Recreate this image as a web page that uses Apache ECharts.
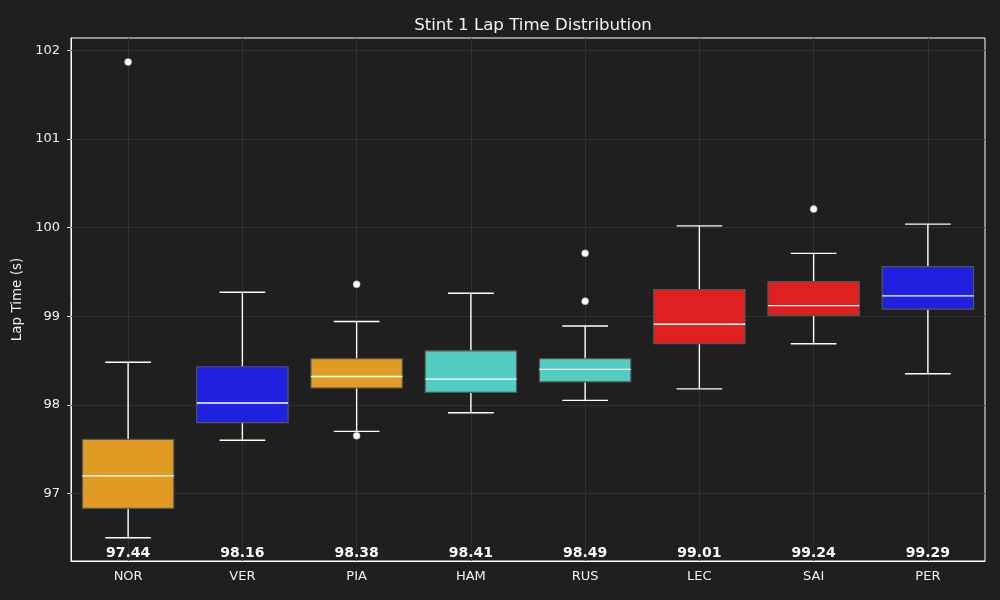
<!DOCTYPE html>
<html>
<head>
<meta charset="utf-8">
<script src="https://cdn.jsdelivr.net/npm/echarts@6/dist/echarts.min.js"></script>
<style>
html,body{margin:0;padding:0;background:#1f1f1f;}
#chart{width:1000px;height:600px;}
</style>
</head>
<body>
<div id="chart"></div>
<script>
const drivers = ['NOR','VER','PIA','HAM','RUS','LEC','SAI','PER'];
const whiskerLow  = [96.50, 97.60, 97.70, 97.91, 98.05, 98.18, 98.69, 98.35];
const q1          = [96.83, 97.80, 98.19, 98.14, 98.26, 98.69, 99.01, 99.08];
const medians     = [97.20, 98.02, 98.32, 98.29, 98.40, 98.91, 99.12, 99.23];
const q3          = [97.61, 98.43, 98.52, 98.61, 98.52, 99.30, 99.39, 99.56];
const whiskerHigh = [98.48, 99.27, 98.94, 99.26, 98.89, 100.02, 99.71, 100.04];
const outliers = [[0,101.87],[2,99.36],[2,97.65],[4,99.71],[4,99.17],[6,100.21]];
const meanLabels = ['97.44','98.16','98.38','98.41','98.49','99.01','99.24','99.29'];
const yTicks = [97, 98, 99, 100, 101, 102];

const teamColors = ['#E09C22','#2020E0','#E09C22','#53CDC1','#53CDC1','#DF1F20','#DF1F20','#2020E0'];
const Y_MIN = 96.237, Y_MAX = 102.141;

const boxData = drivers.map((d, i) => [i, whiskerLow[i], q1[i], medians[i], q3[i], whiskerHigh[i]]);

function renderBox(params, api) {
  const i = api.value(0);
  const pLow = api.coord([i, api.value(1)]);
  const pQ1 = api.coord([i, api.value(2)]);
  const pMed = api.coord([i, api.value(3)]);
  const pQ3 = api.coord([i, api.value(4)]);
  const pHigh = api.coord([i, api.value(5)]);
  const cw = api.size([1, 0])[0];
  const bw = cw * 0.8, capW = cw * 0.4;
  const x = pMed[0];
  const wStyle = {stroke:'#ffffff', lineWidth:1.4};
  return {
    type:'group',
    children:[
      {type:'line', shape:{x1:x,y1:pLow[1],x2:x,y2:pQ1[1]}, style:wStyle},
      {type:'line', shape:{x1:x,y1:pQ3[1],x2:x,y2:pHigh[1]}, style:wStyle},
      {type:'line', shape:{x1:x-capW/2,y1:pLow[1],x2:x+capW/2,y2:pLow[1]}, style:wStyle},
      {type:'line', shape:{x1:x-capW/2,y1:pHigh[1],x2:x+capW/2,y2:pHigh[1]}, style:wStyle},
      {type:'rect', shape:{x:x-bw/2,y:pQ3[1],width:bw,height:pQ1[1]-pQ3[1]},
        style:{fill:teamColors[i], stroke:'#555555', lineWidth:1.2}},
      {type:'line', shape:{x1:x-bw/2,y1:pMed[1],x2:x+bw/2,y2:pMed[1]}, style:{stroke:'#ffffff', lineWidth:1.4}}
    ]
  };
}

const chart = echarts.init(document.getElementById('chart'));
chart.setOption({
  backgroundColor:'#1f1f1f',
  animation:false,
  textStyle:{fontFamily:'DejaVu Sans'},
  title:{
    text:'Stint 1 Lap Time Distribution',
    left:528, top:12, textAlign:'center',
    textStyle:{color:'#f4f4f4', fontSize:16.6, fontWeight:'normal', fontFamily:'DejaVu Sans'}
  },
  grid:{left:71, right:15, top:38, bottom:39, show:true, borderColor:'#ffffff', borderWidth:1, backgroundColor:'transparent'},
  xAxis:{
    type:'category', data:drivers, boundaryGap:true,
    axisLine:{lineStyle:{color:'#ffffff', width:1}},
    axisTick:{alignWithLabel:true, length:4, lineStyle:{color:'#ffffff'}},
    axisLabel:{color:'#f0f0f0', fontSize:13, margin:9, fontFamily:'DejaVu Sans'},
    splitLine:{show:false}
  },
  yAxis:{
    type:'value', min:Y_MIN, max:Y_MAX,
    name:'Lap Time (s)', nameLocation:'middle', nameGap:41,
    nameTextStyle:{color:'#f0f0f0', fontSize:13.5, fontFamily:'DejaVu Sans'},
    axisLine:{show:true, lineStyle:{color:'#ffffff', width:1}},
    axisTick:{show:true, length:4, lineStyle:{color:'#ffffff'}, customValues:yTicks},
    axisLabel:{color:'#f0f0f0', fontSize:13, margin:11, fontFamily:'DejaVu Sans', customValues:yTicks,
      formatter:v=>String(Math.round(v))},
    splitLine:{show:false}
  },
  series:[
    {
      type:'line', data:[], z:1, silent:true,
      markLine:{
        silent:true, symbol:'none', animation:false, z:1,
        label:{show:false},
        lineStyle:{color:'#313131', width:1, type:'solid'},
        data: yTicks.map(v=>({yAxis:v})).concat(drivers.map(d=>({xAxis:d})))
      }
    },
    {
      type:'custom', z:3, renderItem:renderBox, data:boxData,
      encode:{x:0, y:[1,2,3,4,5]}
    },
    {
      type:'scatter', z:4, data:outliers, symbolSize:7,
      itemStyle:{color:'#ffffff', opacity:1, borderColor:'#aaaaaa', borderWidth:0.6}
    },
    {
      type:'scatter', z:5, silent:true, symbolSize:1,
      itemStyle:{color:'rgba(0,0,0,0)', opacity:1},
      data: meanLabels.map((m,i)=>[i, Y_MIN]),
      label:{show:true, position:'top', distance:0, opacity:1,
        formatter:p=>meanLabels[p.dataIndex],
        color:'#ffffff', fontSize:14, fontWeight:'bold', fontFamily:'DejaVu Sans'}
    }
  ]
});
</script>
</body>
</html>
